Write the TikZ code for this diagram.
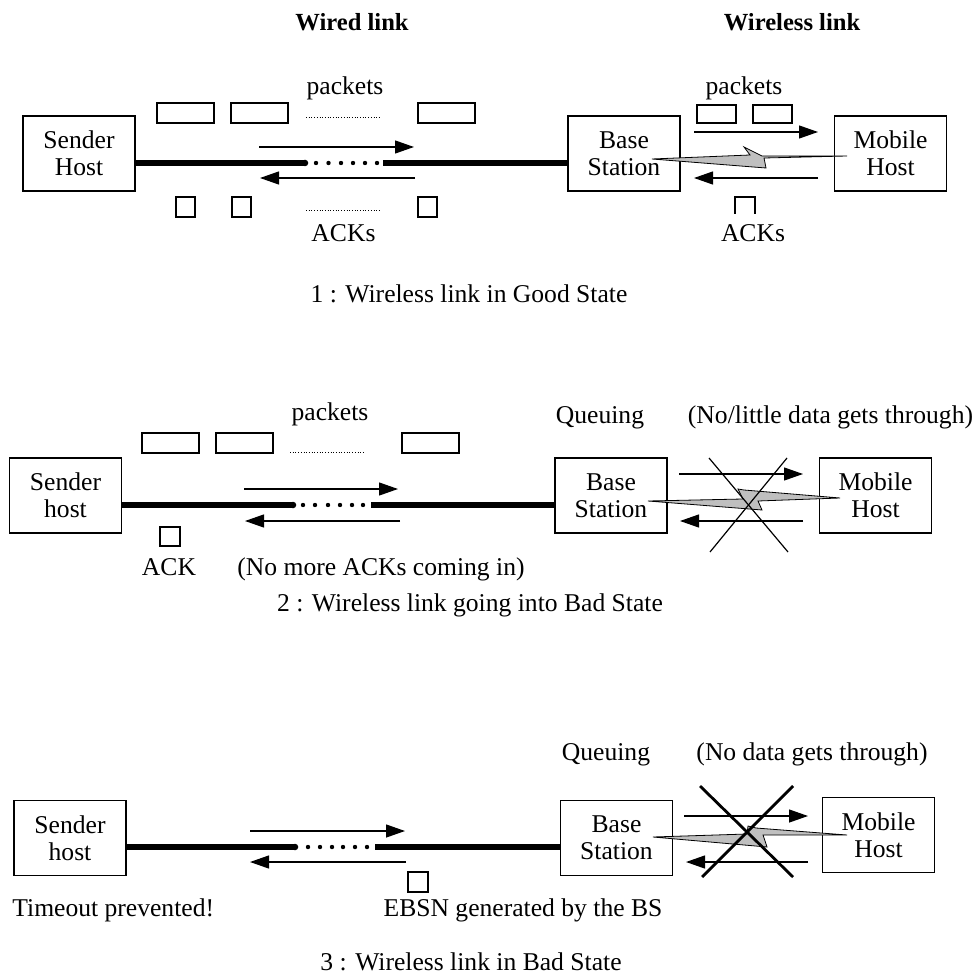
\documentclass[tikz,border=0pt]{standalone}
\usepackage{fontspec}
\setmainfont{Liberation Serif}
\usetikzlibrary{arrows.meta}
\begin{document}
\begin{tikzpicture}[x=0.5pt,y=-0.5pt,
  every node/.style={font=\fontsize{12.8}{13.6}\selectfont, inner sep=0pt},
  hostbox/.style={draw, line width=0.75pt, minimum width=56pt, minimum height=37.5pt, align=center},
  lbl/.style={anchor=base},
  ttl/.style={anchor=base, font=\fontsize{12.3}{13.6}\selectfont\bfseries},
  wire/.style={line width=3.25pt},
  flow/.style={line width=0.6pt, -{Triangle[length=9.5pt,width=6.5pt]}},
  pkt/.style={line width=0.75pt},
  trail/.style={line width=0.45pt, dash pattern=on 0.45pt off 0.9pt},
  bolt/.style={draw, line width=0.4pt, fill=black!25, line join=miter},
  cross/.style={line width=0.6pt},
  heavycross/.style={line width=1.4pt}]
\useasboundingbox (0,0) rectangle (978,978);

% headings
\node[ttl] (hwired) at (352,31) {Wired link};
\node[ttl] (hwless) at (792,31) {Wireless link};

% ---------------- state 1 ----------------
\node[hostbox] (s1) at (79,153.5) {Sender\\Host};
\node[hostbox] (b1) at (624,153.5) {Base\\Station};
\node[hostbox] (m1) at (890.5,153.5) {Mobile\\Host};
\coordinate (w1a) at (305,163);
\coordinate (w1b) at (383,163);
\draw[wire] (s1.east |- w1a) -- (w1a);
\fill (w1a) circle[radius=1.625pt];
\draw[wire] (w1b) -- (w1b -| b1.west);
\foreach \x in {316,328.5,341,353,365,377} \fill (\x,163) circle[radius=1.1pt];
% packets on the wired link
\node[lbl] (p1l) at (345,95) {packets};
\draw[pkt] (157,103) rectangle (214,123);
\draw[pkt] (231,103) rectangle (288,123);
\draw[pkt] (418,103) rectangle (475,123);
\draw[trail] (306,117) -- (379,117);
\coordinate (f1a) at (259,147); \coordinate (f1b) at (414,147);
\draw[flow] (f1a) -- (f1b);
\coordinate (r1a) at (415,178); \coordinate (r1b) at (260,178);
\draw[flow] (r1a) -- (r1b);
% ACKs on the wired link
\draw[pkt] (176,197) rectangle (195,217);
\draw[pkt] (232,197) rectangle (251,217);
\draw[pkt] (418,197) rectangle (437,217);
\draw[trail] (306,210) -- (379,210);
\node[lbl] (a1l) at (343.5,242) {ACKs};
% wireless side
\node[lbl] (p1r) at (744,95) {packets};
\draw[pkt] (697,105) rectangle (736,123);
\draw[pkt] (753,105) rectangle (792,123);
\coordinate (f1c) at (694,132); \coordinate (f1d) at (818,132);
\draw[flow] (f1c) -- (f1d);
\coordinate (r1c) at (818,178); \coordinate (r1d) at (694,178);
\draw[flow] (r1c) -- (r1d);
\draw[pkt] (735,214) -- (735,197) -- (755,197) -- (755,214);
\node[lbl] (a1r) at (753,242) {ACKs};
\draw[bolt] (652,159) -- (750,155) -- (744,147) -- (762,156) -- (847,156)
  -- (764,158) -- (766,168) -- cycle;
\node[lbl] (c1) at (469,302) {1 : Wireless link in Good State};

% ---------------- state 2 ----------------
\node[hostbox] (s2) at (65.5,495.5) {Sender\\host};
\node[hostbox] (b2) at (611,495.5) {Base\\Station};
\node[hostbox] (m2) at (875.5,495.5) {Mobile\\Host};
\coordinate (w2a) at (293,505);
\coordinate (w2b) at (371,505);
\draw[wire] (s2.east |- w2a) -- (w2a);
\fill (w2a) circle[radius=1.625pt];
\draw[wire] (w2b) -- (w2b -| b2.west);
\foreach \x in {303,315,328,340,352,363} \fill (\x,505) circle[radius=1.1pt];
\node[lbl] (p2l) at (330,420) {packets};
\draw[pkt] (142,433) rectangle (199,453);
\draw[pkt] (216,433) rectangle (273,453);
\draw[pkt] (402,433) rectangle (459,453);
\draw[trail] (290,452) -- (363,452);
\coordinate (f2a) at (244,489); \coordinate (f2b) at (398,489);
\draw[flow] (f2a) -- (f2b);
\coordinate (r2a) at (400,521); \coordinate (r2b) at (245,521);
\draw[flow] (r2a) -- (r2b);
\draw[pkt] (160,527) rectangle (180,546);
\node[lbl] (a2l) at (169,575) {ACK};
\node[lbl] (n2) at (381,575) {(No more ACKs coming in)};
\node[lbl] (q2) at (600,423) {Queuing};
\node[lbl] (d2) at (830.5,423) {(No/little data gets through)};
\coordinate (f2c) at (679,474); \coordinate (f2d) at (803,474);
\draw[flow] (f2c) -- (f2d);
\coordinate (r2c) at (803,521); \coordinate (r2d) at (680,521);
\draw[flow] (r2c) -- (r2d);
\draw[bolt] (648,501) -- (743,499) -- (738,489) -- (744,490) -- (840,498)
  -- (758,501) -- (762,510) -- cycle;
\draw[cross] (709,458) -- (788,552);
\draw[cross] (787,458) -- (710,552);
\node[lbl] (c2) at (470,611) {2 : Wireless link going into Bad State};

% ---------------- state 3 ----------------
\node[hostbox] (s3) at (70,838) {Sender\\host};
\node[hostbox] (b3) at (616.5,838) {Base\\Station};
\node[hostbox] (m3) at (878.5,835) {Mobile\\Host};
\coordinate (w3a) at (295,847);
\coordinate (w3b) at (375,847);
\draw[wire] (s3.east |- w3a) -- (w3a);
\fill (w3a) circle[radius=1.625pt];
\draw[wire] (w3b) -- (w3b -| b3.west);
\foreach \x in {308,320,332,343,355,367} \fill (\x,847) circle[radius=1.1pt];
\coordinate (f3a) at (250,831); \coordinate (f3b) at (405,831);
\draw[flow] (f3a) -- (f3b);
\coordinate (r3a) at (406,862); \coordinate (r3b) at (250,862);
\draw[flow] (r3a) -- (r3b);
\draw[pkt] (408,872) rectangle (428,892);
\node[lbl, anchor=base west] (t3) at (12,916) {Timeout prevented!};
\node[lbl] (e3) at (523,916) {EBSN generated by the BS};
\node[lbl] (q3) at (606,760) {Queuing};
\node[lbl] (d3) at (812,760) {(No data gets through)};
\coordinate (f3c) at (684,816); \coordinate (f3d) at (808,816);
\draw[flow] (f3c) -- (f3d);
\coordinate (r3c) at (808,862); \coordinate (r3d) at (686,862);
\draw[flow] (r3c) -- (r3d);
\draw[bolt] (653,837) -- (747,834) -- (748,826) -- (756,828) -- (847,835)
  -- (763,835) -- (767,847) -- cycle;
\draw[heavycross] (700,786) -- (793,877);
\draw[heavycross] (793,786) -- (702,877);
\node[lbl] (c3) at (471,970) {3 : Wireless link in Bad State};
\end{tikzpicture}
\end{document}
